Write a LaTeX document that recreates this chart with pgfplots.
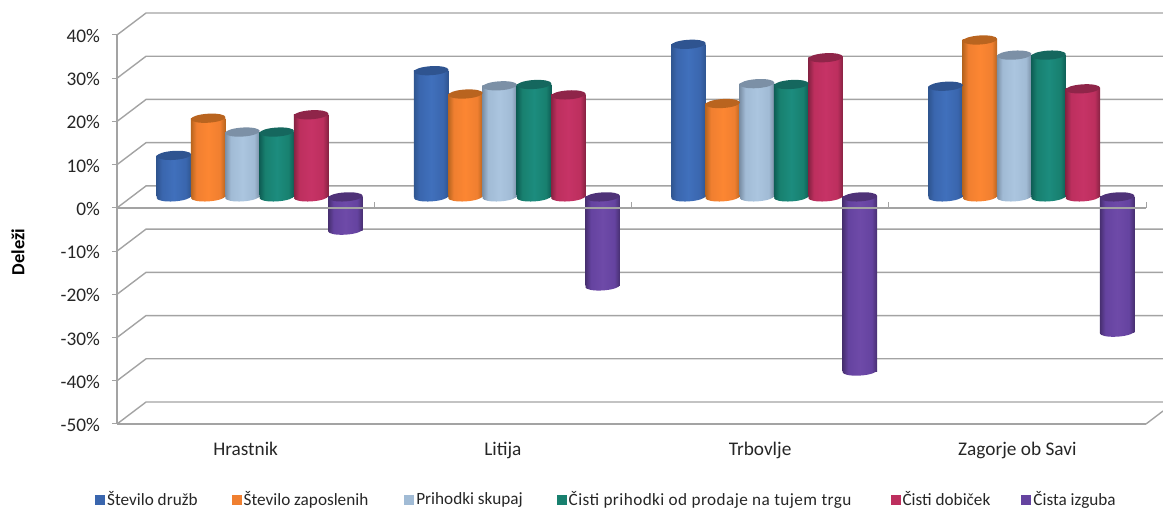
\documentclass[border=0pt]{standalone}
\usepackage{fontspec}
\setmainfont{Carlito}
\usepackage{pgfplots}
\usepackage{pgfplotstable}
\pgfplotsset{compat=1.18}

\definecolor{gridc}{HTML}{A3A3A3}
\definecolor{textc}{HTML}{262626}

% values read off the picture, one column per series
\pgfplotstableread{
x a b c d e f
0 9.6 18.2 15.0 15.0 19.0 -7.7
1 29.2 23.8 25.7 26.0 23.6 -20.6
2 35.3 21.6 26.2 26.0 32.2 -40.3
3 25.6 36.3 32.8 32.8 25.0 -31.3
}\data

% name, edge colour, side colour, highlight, cap colour
\newcommand\cylstyle[5]{%
  \definecolor{#1E}{HTML}{#2}\definecolor{#1M}{HTML}{#3}%
  \definecolor{#1L}{HTML}{#4}\definecolor{#1C}{HTML}{#5}%
  \pgfdeclarehorizontalshading{cyl#1}{100bp}{color(0bp)=(#1E); color(25bp)=(#1E);
    color(33bp)=(#1M); color(50bp)=(#1L); color(67bp)=(#1M); color(75bp)=(#1E); color(100bp)=(#1E)}%
  \pgfdeclareplotmark{base#1}{%
    \pgfpathellipse{\pgfqpoint{0pt}{0pt}}{\pgfqpoint{17.3pt}{1.1pt}}{\pgfqpoint{-0.3pt}{4.5pt}}%
    \pgfshadepath{cyl#1}{0}\pgfusepath{discard}}%
  \pgfdeclareplotmark{cap#1}{%
    \pgfpathellipse{\pgfqpoint{0pt}{0pt}}{\pgfqpoint{17.3pt}{1.1pt}}{\pgfqpoint{-0.3pt}{4.5pt}}%
    \pgfsetfillcolor{#1C}\pgfusepath{fill}}%
}
\cylstyle{a}{2F5590}{3A66AE}{4070BC}{2F5490}
\cylstyle{b}{B8651F}{F07F30}{FC8632}{B9641F}
\cylstyle{c}{7B8FA6}{A1BBD5}{ABC5DF}{7C90A6}
\cylstyle{d}{0E5E55}{18806F}{1C8C7E}{15675E}
\cylstyle{e}{862242}{BD2F5E}{C63366}{8F2549}
\cylstyle{f}{472F70}{6543A0}{6E4AA8}{4F3278}

% one plot per bar, so that the shading fits each bar and not the whole row
\newcommand\cyl[2]{%
  \addplot[only marks, mark=base#1] table[x expr=\thisrow{x}+#2, y expr={min(\thisrow{#1},0)}]{\data};
  \pgfplotsinvokeforeach{0,1,2,3}{%
    \addplot[ybar, bar width=34.6pt, bar shift=0pt, draw=none, shade, shading=cyl#1,
      restrict expr to domain={\coordindex}{##1:##1}]
      table[x expr=\thisrow{x}+#2, y=#1]{\data};
  }
  \addplot[only marks, mark=cap#1] table[x expr=\thisrow{x}+#2, y expr={max(\thisrow{#1},0)}]{\data};
}

\pgfplotsset{frame/.style={
  at={(117pt,84pt)}, anchor=south west, scale only axis,
  width=1029pt, height=389pt,
  xmin=-0.5, xmax=3.5, ymin=-50, ymax=40, clip=false}}

\begin{document}
\begin{tikzpicture}
\useasboundingbox (0,0) rectangle (1163pt,508pt);

% back wall lines
\begin{axis}[frame, hide axis]
\addplot[gridc, line width=1.4pt] coordinates {(-0.5,40) (-0.387,45.09) (3.566,45.09)};
\addplot[gridc, line width=1.4pt] coordinates {(-0.5,30) (-0.387,35.09) (3.566,35.09)};
\addplot[gridc, line width=1.4pt] coordinates {(-0.5,20) (-0.387,25.09) (3.566,25.09)};
\addplot[gridc, line width=1.4pt] coordinates {(-0.5,10) (-0.387,15.09) (3.566,15.09)};
\addplot[gridc, line width=1.4pt] coordinates {(-0.5,0) (-0.387,5.09) (3.566,5.09)};
\addplot[gridc, line width=1.4pt] coordinates {(-0.5,-10) (-0.387,-4.91) (3.566,-4.91)};
\addplot[gridc, line width=1.4pt] coordinates {(-0.5,-20) (-0.387,-14.91) (3.566,-14.91)};
\addplot[gridc, line width=1.4pt] coordinates {(-0.5,-30) (-0.387,-24.91) (3.566,-24.91)};
\addplot[gridc, line width=1.4pt] coordinates {(-0.5,-40) (-0.387,-34.91) (3.566,-34.91)};
\addplot[gridc, line width=1.4pt] coordinates {(-0.5,-50) (-0.387,-44.91) (3.566,-44.91)};
\addplot[gridc, line width=1.4pt] coordinates {(3.5,-50) (3.566,-47)};
\end{axis}

% cylinders, moved back into the depth of the chart
\begin{axis}[frame, hide axis, at={(131pt,95pt)}]
\cyl{a}{-0.3333}
\cyl{b}{-0.2}
\cyl{c}{-0.0667}
\cyl{d}{0.0667}
\cyl{e}{0.2}
\cyl{f}{0.3333}
\end{axis}

% front axis, labels and legend
\begin{axis}[frame,
  axis lines=left,
  axis line style={-, gridc, line width=1.4pt},
  xtick={0,1,2,3},
  xticklabels={Hrastnik,Litija,Trbovlje,Zagorje ob Savi},
  ytick={-50,-40,...,40},
  yticklabels={-50\%,-40\%,-30\%,-20\%,-10\%,0\%,10\%,20\%,30\%,40\%},
  tick align=outside,
  major tick length=5pt,
  xtick style={draw=none},
  ytick style={gridc, line width=1pt},
  tick label style={font=\fontsize{19.3}{22}\selectfont, text=textc},
  xticklabel style={yshift=-10pt},
  yticklabel style={xshift=-8.5pt, yshift=-1pt},
  ylabel={\textbf{Deleži}},
  every axis y label/.append style={at={(axis description cs:-0.0962,0.442)}, rotate=0, anchor=center},
  ylabel style={font=\fontsize{18.5}{22}\selectfont, text=black},
  legend columns=6,
  legend cell align=left,
  legend style={draw=none, fill=none, inner sep=0pt, anchor=west,
    at={(axis description cs:-0.0214,-0.1925)},
    font=\fontsize{17.2}{20}\selectfont, text=textc,
    /tikz/column 2/.style={column sep=32pt},
    /tikz/column 4/.style={column sep=34pt},
    /tikz/column 6/.style={column sep=32pt},
    /tikz/column 8/.style={column sep=37pt},
    /tikz/column 10/.style={column sep=29pt}},
  legend image code/.code={\fill[draw=none, #1] (-1pt,-6pt) rectangle (9pt,4pt);},
]
\addlegendimage{fill=aM, draw=none}\addlegendentry{Število družb}
\addlegendimage{fill=bM, draw=none}\addlegendentry{Število zaposlenih}
\addlegendimage{fill=cM, draw=none}\addlegendentry{Prihodki skupaj}
\addlegendimage{fill=dM, draw=none}\addlegendentry{{\addfontfeature{LetterSpace=2.5}Čisti prihodki od prodaje na tujem trgu}}
\addlegendimage{fill=eM, draw=none}\addlegendentry{Čisti dobiček}
\addlegendimage{fill=fM, draw=none}\addlegendentry{Čista izguba}
\addplot[gridc, line width=1.4pt, forget plot] coordinates {(-0.5,0) (3.5,0)};
\addplot[ycomb, gridc, line width=0.7pt, forget plot] coordinates {(0.5,1.4) (1.5,1.4) (2.5,1.4) (3.5,1.4)};
\end{axis}
\end{tikzpicture}
\end{document}
